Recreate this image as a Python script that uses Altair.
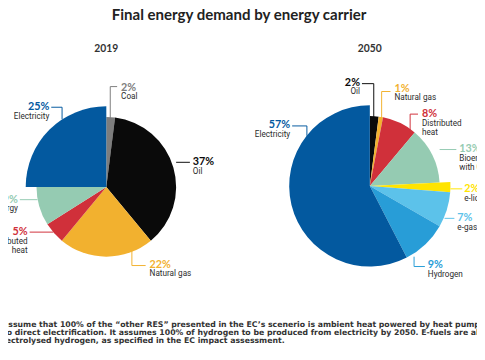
import altair as alt
import pandas as pd

OFF = 8  # page margin: layout numbers below are page pixels

# ---------------- data ----------------
carriers_2019 = ["Coal", "Oil", "Natural gas", "Distributed heat", "Bioenergy", "Electricity"]
shares_2019 = [2, 37, 22, 5, 9, 25]

carriers_2050 = ["Oil", "Natural gas", "Distributed heat", "Bioenergy",
                 "e-liquids", "e-gas", "Hydrogen", "Electricity"]
shares_2050 = [2, 1, 8, 13, 2, 7, 9, 57]

electric_based = ["Electricity", "e-liquids", "e-gas", "Hydrogen"]

color_domain = ["Coal", "Oil", "Natural gas", "Distributed heat", "Bioenergy",
                "Electricity", "e-liquids", "e-gas", "Hydrogen"]
color_range = ["#7d7d7d", "#0a0a0a", "#f2b12f", "#d0303a", "#95cbb2",
               "#03599f", "#ffe400", "#5cc2ea", "#289dd7"]
text_range = ["#8c8c8c", "#111111", "#f0b43c", "#d5343d", "#9ccfb9",
              "#2a74b8", "#f5d800", "#5cc2ea", "#3b9fd6"]

title_text = "Final energy demand by energy carrier"
footnote_lines = [
    "assume that 100% of the \u201cother RES\u201d presented in the EC\u2019s scenerio is ambient heat powered by heat pumps, and",
    "to direct electrification. It assumes 100% of hydrogen to be produced from electricity by 2050. E-fuels are also",
    "lectrolysed hydrogen, as specified in the EC impact assessment.",
]

# ---------------- layout (page pixels) ----------------
pie_layout = {"2019": (108, 187), "2050": (376, 186)}
R_SMALL, R_BIG = 71, 82

# (pct x, pct y, align, name)
label_layout = {
    ("2019", "Coal"): (123, 86, "left", "Coal"),
    ("2019", "Oil"): (196, 162, "left", "Oil"),
    ("2019", "Natural gas"): (152, 266, "left", "Natural gas"),
    ("2019", "Distributed heat"): (28, 233, "right", "Distributed\nheat"),
    ("2019", "Bioenergy"): (18, 200, "right", "Bioenergy"),
    ("2019", "Electricity"): (50, 106, "right", "Electricity"),
    ("2050", "Oil"): (366, 81, "right", "Oil"),
    ("2050", "Natural gas"): (401, 87, "left", "Natural gas"),
    ("2050", "Distributed heat"): (429, 113, "left", "Distributed\nheat"),
    ("2050", "Bioenergy"): (467, 149, "left", "Bioenergy\nwith CCS"),
    ("2050", "e-liquids"): (472, 189, "left", "e-liquids"),
    ("2050", "e-gas"): (465, 219, "left", "e-gas"),
    ("2050", "Hydrogen"): (435, 267, "left", "Hydrogen"),
    ("2050", "Electricity"): (295, 124, "right", "Electricity"),
}

leader_layout = {
    ("2019", "Coal"): [(112, 117), (112, 85), (119, 85)],
    ("2019", "Oil"): [(179, 162), (193, 162)],
    ("2019", "Natural gas"): [(134, 252), (134, 267), (148, 267)],
    ("2019", "Distributed heat"): [(54, 233), (30, 233)],
    ("2019", "Bioenergy"): [(38, 200), (20, 200)],
    ("2019", "Electricity"): [(63, 118), (63, 106), (52, 106)],
    ("2050", "Oil"): [(380, 117), (380, 82), (368, 82)],
    ("2050", "Natural gas"): [(388, 117), (388, 90), (397, 90)],
    ("2050", "Distributed heat"): [(417, 131), (417, 113), (425, 113)],
    ("2050", "Bioenergy"): [(447, 149), (464, 149)],
    ("2050", "e-liquids"): [(458, 189), (470, 189)],
    ("2050", "e-gas"): [(452, 219), (462, 219)],
    ("2050", "Hydrogen"): [(421, 258), (421, 268), (432, 268)],
    ("2050", "Electricity"): [(312, 135), (312, 125), (297, 125)],
}

# ---------------- tables ----------------
rows = []
for year, cats, vals in [("2019", carriers_2019, shares_2019), ("2050", carriers_2050, shares_2050)]:
    for i, (c, v) in enumerate(zip(cats, vals)):
        rows.append({"year": year, "carrier": c, "share": v, "idx": i,
                     "elec": c in electric_based})
df = pd.DataFrame(rows)

lab = df.copy()
keys = list(zip(lab["year"], lab["carrier"]))
lab["px"] = [label_layout[k][0] - OFF for k in keys]
lab["py"] = [label_layout[k][1] - OFF for k in keys]
lab["anchor"] = [label_layout[k][2] for k in keys]
lab["label"] = [label_layout[k][3] for k in keys]
lab["ny"] = lab["py"] + 10

seg_rows = []
for (y, c), pts in leader_layout.items():
    for (x1, y1), (x2, y2) in zip(pts[:-1], pts[1:]):
        seg_rows.append({"year": y, "carrier": c, "x1": x1 - OFF, "y1": y1 - OFF,
                         "x2": x2 - OFF, "y2": y2 - OFF})
segs = pd.DataFrame(seg_rows)

color_scale = alt.Scale(domain=color_domain, range=color_range)
text_scale = alt.Scale(domain=color_domain, range=text_range)

# ---------------- marks ----------------
def pie(year):
    cx, cy = pie_layout[year]
    return alt.Chart(df[df["year"] == year]).transform_window(
        cum="sum(share)", sort=[alt.SortField("idx")], frame=[None, 0]
    ).transform_joinaggregate(
        total="sum(share)"
    ).transform_calculate(
        a0="2 * PI * (datum.cum - datum.share) / datum.total",
        a1="2 * PI * datum.cum / datum.total",
        rad=f"datum.elec ? {R_BIG} : {R_SMALL}",
    ).mark_arc(strokeWidth=0).encode(
        theta=alt.Theta("a0:Q", scale=None),
        theta2="a1:Q",
        color=alt.Color("carrier:N", scale=color_scale, legend=None),
        radius=alt.Radius("rad:Q", scale=None),
        x=alt.value(cx - OFF),
        y=alt.value(cy - OFF),
    )

leaders = alt.Chart(segs).mark_rule(strokeWidth=1).encode(
    x=alt.X("x1:Q", scale=None), y=alt.Y("y1:Q", scale=None),
    x2="x2:Q", y2="y2:Q",
    color=alt.Color("carrier:N", scale=text_scale, legend=None),
)

def labels(anchor):
    d = lab[lab["anchor"] == anchor]
    pct = alt.Chart(d).transform_calculate(
        pct="datum.share + '%'"
    ).mark_text(align=anchor, baseline="middle", font="Lato", fontSize=11,
                fontWeight="bold").encode(
        x=alt.X("px:Q", scale=None), y=alt.Y("py:Q", scale=None),
        text="pct:N",
        color=alt.Color("carrier:N", scale=text_scale, legend=None),
    )
    name = alt.Chart(d).transform_calculate(
        nm="split(datum.label, '\\n')"
    ).mark_text(align=anchor, baseline="middle", font="Roboto", fontSize=8.3,
                lineHeight=9, color="#2b2b2b").encode(
        x=alt.X("px:Q", scale=None), y=alt.Y("ny:Q", scale=None),
        text="nm:N",
    )
    return pct + name

title = alt.Chart(pd.DataFrame({"t": [title_text]})).mark_text(
    font="Lato", fontSize=15.3, fontWeight="bold", color="#222222",
    align="center", baseline="middle"
).encode(x=alt.value(243 - OFF), y=alt.value(12 - OFF), text="t:N")

years_df = pd.DataFrame({"year": ["2019", "2050"],
                         "yx": [pie_layout["2019"][0] - OFF, pie_layout["2050"][0] - OFF]})
year_text = alt.Chart(years_df).mark_text(
    font="Lato", fontSize=10.5, fontWeight="bold", color="#333333",
    align="center", baseline="middle"
).encode(x=alt.X("yx:Q", scale=None), y=alt.value(47 - OFF), text="year:N")

foot_df = pd.DataFrame({"line": footnote_lines,
                        "fy": [327 - OFF, 335.5 - OFF, 344 - OFF]})
footnote = alt.Chart(foot_df).mark_text(
    font="DejaVu Sans", fontSize=7.9, fontWeight="bold", color="#333333",
    align="left", baseline="middle"
).encode(x=alt.value(3 - OFF), y=alt.Y("fy:Q", scale=None), text="line:N")

chart = alt.layer(
    pie("2019"), pie("2050"), leaders, labels("left"), labels("right"),
    title, year_text, footnote
).properties(
    width=477, height=344, autosize=alt.AutoSizeParams(type="none"), padding=0
).configure_view(stroke=None)

chart.save("out.html", embed_options={"renderer": "svg", "actions": False})
